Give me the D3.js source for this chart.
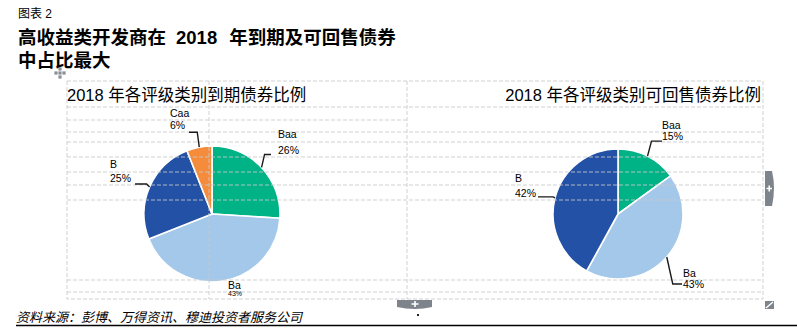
<!DOCTYPE html>
<html><head><meta charset="utf-8">
<script src="https://cdn.jsdelivr.net/npm/d3@7"></script>
<style>
html,body{margin:0;padding:0;background:#fff;}
svg{display:block;}
</style></head>
<body>
<svg id="c" width="797" height="328"></svg>
<script>
// ---- data ----
const leftCategories = ["Baa", "Ba", "B", "Caa"];
const leftValues = [26, 43, 25, 6];
const rightCategories = ["Baa", "Ba", "B"];
const rightValues = [15, 43, 42];
const figureLabel = "图表 2";
const titleLine1Parts = ["高收益类开发商在", "2018", "年到期及可回售债券"];
const titleLine2 = "中占比最大";
const leftTitle = "2018 年各评级类别到期债券比例";
const rightTitle = "2018 年各评级类别可回售债券比例";
const sourceText = "资料来源：彭博、万得资讯、穆迪投资者服务公司";

// ---- styles / layout ----
const colors = {Baa: "#00B387", Ba: "#A3C8EA", B: "#2251A6", Caa: "#F58C3B"};
const cjk = "'Liberation Sans', Arial, 'Noto Sans CJK SC', sans-serif";
const svg = d3.select("#c");

// header
svg.append("text").attr("x", 18).attr("y", 18).attr("font-size", 12)
  .attr("font-family", cjk).attr("fill", "#000").text(figureLabel);
const t1 = svg.append("text").attr("x", 18).attr("y", 44).attr("font-size", 18.5)
  .attr("font-weight", "bold").attr("font-family", cjk).attr("fill", "#000");
t1.append("tspan").text(titleLine1Parts[0]);
t1.append("tspan").attr("dx", 10).text(titleLine1Parts[1]);
t1.append("tspan").attr("dx", 12).text(titleLine1Parts[2]);
svg.append("text").attr("x", 18).attr("y", 67).attr("font-size", 18.5)
  .attr("font-weight", "bold").attr("font-family", cjk).attr("fill", "#000").text(titleLine2);

// move icon
const mv = svg.append("g").attr("fill", "#8a8f96");
[[60,69],[56,73],[64,73],[60,77],[60,73]].forEach(([x,y]) =>
  mv.append("rect").attr("x", x-1.6).attr("y", y-1.6).attr("width", 3.2).attr("height", 3.2));

// frame & grid
const frame = {x0: 67, x1: 763, y0: 81, y1: 299};
const grid = svg.append("g").attr("stroke", "#c9c9c9").attr("stroke-width", 1)
  .attr("stroke-dasharray", "4,2").attr("fill", "none");

// pies
const pie = d3.pie().sort(null).value(d => d.v);
function drawPie(cats, vals, cx, cy, r) {
  const data = pie(cats.map((c, i) => ({c, v: vals[i]})));
  const arc = d3.arc().innerRadius(0).outerRadius(r);
  const g = svg.append("g").attr("transform", `translate(${cx},${cy})`);
  g.selectAll("path").data(data).join("path")
    .attr("d", arc).attr("fill", d => colors[d.data.c])
    .attr("stroke", "#fff").attr("stroke-width", 1.6).attr("stroke-linejoin", "round");
  return data.map(d => {
    const a = (d.startAngle + d.endAngle) / 2;
    return {c: d.data.c, v: d.data.v, sx: cx + Math.sin(a) * r, sy: cy - Math.cos(a) * r};
  });
}
const leftPts = drawPie(leftCategories, leftValues, 212, 214, 68);
const rightPts = drawPie(rightCategories, rightValues, 618, 214, 65);

// grid lines drawn over pies (light)
const hFull = [107, 132, 142, 157, 172, 185, 200, 280, 292];
hFull.forEach(y => grid.append("line").attr("x1", frame.x0).attr("x2", frame.x1).attr("y1", y).attr("y2", y));
grid.append("line").attr("x1", frame.x0).attr("x2", 407).attr("y1", 120).attr("y2", 120);
[209, 407].forEach(x => grid.append("line").attr("x1", x).attr("x2", x).attr("y1", frame.y0).attr("y2", frame.y1));
grid.append("rect").attr("x", frame.x0).attr("y", frame.y0)
  .attr("width", frame.x1 - frame.x0).attr("height", frame.y1 - frame.y0);
grid.raise();
grid.attr("stroke-opacity", 0.85);

// labels (layout: elbow offset from leader start, end x, text x, baselines)
const leftLayout = {
  Caa: {ex: -2, ey: -15, endX: 189, tx: 170, b1: 117, b2: 129},
  Baa: {ex: 3, ey: -13, endX: 271, tx: 278, b1: 138, b2: 154},
  B:   {ex: -3, ey: -3, endX: 135, tx: 110, b1: 168, b2: 182},
  Ba:  {none: true, tx: 228, b1: 289, b2: 296, small: true}
};
const rightLayout = {
  Baa: {ex: 4, ey: -15, endX: 662, tx: 662, b1: 129, b2: 140},
  Ba:  {ex: 6, ey: 27, endX: 682, tx: 683, b1: 277, b2: 288},
  B:   {ex: -2, ey: -1, endX: 538, tx: 515, b1: 182, b2: 197}
};
function drawLabels(pts, layout) {
  pts.forEach(p => {
    const L = layout[p.c];
    if (!L.none) {
      svg.append("path")
        .attr("d", d3.line()([[p.sx, p.sy], [p.sx + L.ex, p.sy + L.ey], [L.endX, p.sy + L.ey]]))
        .attr("fill", "none").attr("stroke", "#1a1a1a").attr("stroke-width", 1.4);
    }
    svg.append("text").attr("x", L.tx).attr("y", L.b1).attr("font-size", 10.5)
      .attr("font-family", cjk).attr("fill", "#000").text(p.c);
    svg.append("text").attr("x", L.tx).attr("y", L.b2).attr("font-size", L.small ? 7 : 10.5)
      .attr("font-family", cjk).attr("fill", "#000").text(p.v + "%");
  });
}
drawLabels(leftPts, leftLayout);
drawLabels(rightPts, rightLayout);

// chart titles
svg.append("text").attr("x", 67).attr("y", 101).attr("font-size", 16.5)
  .attr("font-family", cjk).attr("fill", "#000").text(leftTitle);
svg.append("text").attr("x", 761).attr("y", 101).attr("font-size", 16.5)
  .attr("text-anchor", "end").attr("font-family", cjk).attr("fill", "#000").text(rightTitle);

// side tab
svg.append("path").attr("d", "M765,171 L772,171 Q776,188 772,206 L765,206 Z").attr("fill", "#7d848c");
svg.append("path").attr("d", "M766.5,188.5 H772 M769.25,185.5 V191.5").attr("stroke", "#fff").attr("stroke-width", 1.6);
// bottom tab
svg.append("path").attr("d", "M397,300 H432 V307 Q415,311 397,307 Z").attr("fill", "#7d848c");
svg.append("path").attr("d", "M411.5,304 H418.5 M415,301 V307").attr("stroke", "#fff").attr("stroke-width", 1.6);
svg.append("rect").attr("x", 417).attr("y", 314).attr("width", 2).attr("height", 2).attr("fill", "#223");
// resize corner
svg.append("rect").attr("x", 765).attr("y", 301).attr("width", 9).attr("height", 8).attr("fill", "#7d848c");
svg.append("path").attr("d", "M766,308 L773,302").attr("stroke", "#fff").attr("stroke-width", 1.5);

// source
svg.append("text").attr("x", 16).attr("y", 322).attr("font-size", 13)
  .attr("font-style", "italic").attr("font-family", "'Noto Sans CJK SC', sans-serif")
  .attr("fill", "#000").text(sourceText);
svg.append("line").attr("x1", 16).attr("x2", 797).attr("y1", 325.5).attr("y2", 325.5)
  .attr("stroke", "#000").attr("stroke-width", 1.3);
</script>
</body></html>
